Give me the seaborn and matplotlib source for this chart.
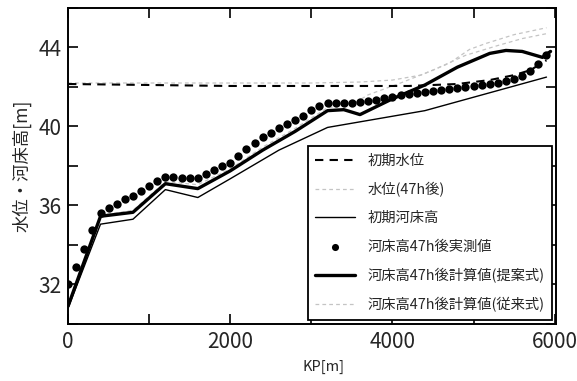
import matplotlib
matplotlib.use("Agg")
import matplotlib.pyplot as plt
from matplotlib.ticker import MultipleLocator
import seaborn as sns

# ---- data (KP in m, elevation in m) ----
kp_wl0 = [0, 1000, 2000, 3000, 4200, 4800, 5200, 5500, 5700, 5900]
wl0 = [42.15, 42.1, 42.05, 42.05, 42.05, 42.15, 42.35, 42.6, 42.85, 43.35]

kp_wl47 = [0, 3000, 3600, 4000, 4350, 4700, 4950, 5150, 5500, 5900]
wl47 = [42.2, 42.2, 42.25, 42.35, 42.6, 43.2, 43.9, 44.2, 44.65, 45.0]

kp_bed0 = [0, 400, 800, 1200, 1600, 2000, 2600, 3200, 4400, 5900]
bed0 = [30.8, 35.05, 35.3, 36.8, 36.4, 37.35, 38.8, 39.95, 40.8, 42.5]

kp_obs = [0, 100, 200, 300, 400, 500, 600, 700, 800, 900,
          1000, 1100, 1200, 1300, 1400, 1500, 1600, 1700, 1800, 1900,
          2000, 2100, 2200, 2300, 2400, 2500, 2600, 2700, 2800, 2900,
          3000, 3100, 3200, 3300, 3400, 3500, 3600, 3700, 3800, 3900,
          4000, 4100, 4200, 4300, 4400, 4500, 4600, 4700, 4800, 4900,
          5000, 5100, 5200, 5300, 5400, 5500, 5600, 5700, 5800, 5900]
bed_obs = [32.0, 32.9, 33.8, 34.75, 35.6, 35.85, 36.05, 36.3, 36.5, 36.75,
           37.0, 37.25, 37.45, 37.45, 37.4, 37.4, 37.4, 37.6, 37.8, 38.0,
           38.15, 38.5, 38.85, 39.15, 39.45, 39.65, 39.9, 40.1, 40.35, 40.55,
           40.85, 41.05, 41.2, 41.2, 41.2, 41.2, 41.25, 41.3, 41.35, 41.45,
           41.5, 41.6, 41.65, 41.7, 41.75, 41.8, 41.85, 41.9, 41.95, 42.0,
           42.05, 42.1, 42.15, 42.2, 42.3, 42.4, 42.55, 42.8, 43.15, 43.6]

kp_new = [0, 400, 800, 1200, 1600, 2000, 2400, 2800, 3200, 3400,
          3600, 4000, 4400, 4800, 5200, 5400, 5600, 5850, 5950]
bed_new = [30.9, 35.45, 35.65, 37.1, 36.85, 37.75, 38.8, 39.75, 40.8, 40.85,
           40.6, 41.4, 42.1, 43.0, 43.7, 43.85, 43.8, 43.5, 43.8]

kp_old = [0, 400, 800, 1200, 1600, 2000, 2400, 2800, 3200, 3500,
          3700, 4100, 4500, 4900, 5300, 5600, 5900]
bed_old = [30.9, 35.5, 35.75, 37.2, 37.05, 37.85, 38.95, 39.9, 40.95, 41.1,
           41.6, 42.2, 42.85, 43.6, 44.1, 44.45, 44.7]

labels = ["初期水位", "水位(47h後)", "初期河床高", "河床高47h後実測値",
          "河床高47h後計算値(提案式)", "河床高47h後計算値(従来式)"]

sns.set_theme(style="ticks")
plt.rcParams["font.family"] = ["Noto Sans CJK JP", "DejaVu Sans"]
plt.rcParams["axes.linewidth"] = 1.4

fig = plt.figure(figsize=(5.77, 3.81), dpi=100)
ax = fig.add_axes([0.118, 0.15, 0.846, 0.829])

gray = "#c4c4c4"
sns.lineplot(x=kp_wl0, y=wl0, ax=ax, color="black", lw=1.5, label=labels[0], zorder=3)
ax.lines[-1].set_dashes((4, 3))
sns.lineplot(x=kp_wl47, y=wl47, ax=ax, color=gray, lw=0.9, label=labels[1], zorder=2)
ax.lines[-1].set_dashes((3, 2.5))
sns.lineplot(x=kp_bed0, y=bed0, ax=ax, color="black", lw=1.0, label=labels[2], zorder=3)
sns.scatterplot(x=kp_obs, y=bed_obs, ax=ax, color="black", s=36, edgecolor="black",
                linewidth=0, label=labels[3], zorder=5)
sns.lineplot(x=kp_new, y=bed_new, ax=ax, color="black", lw=2.4, label=labels[4], zorder=4)
sns.lineplot(x=kp_old, y=bed_old, ax=ax, color=gray, lw=0.9, label=labels[5], zorder=2)
ax.lines[-1].set_dashes((3, 2.5))

ax.set_xlim(0, 6020)
ax.set_ylim(30, 46)
ax.xaxis.set_major_locator(MultipleLocator(2000))
ax.xaxis.set_minor_locator(MultipleLocator(1000))
ax.yaxis.set_major_locator(MultipleLocator(4))
ax.yaxis.set_minor_locator(MultipleLocator(2))
ax.set_yticks([32, 36, 40, 44])
for which in ("major", "minor"):
    ax.tick_params(axis="both", which=which, direction="in", length=7, width=1.2,
                   top=True, right=True, color="black")
ax.tick_params(axis="both", which="major", labelsize=15, pad=5)
for s in ax.spines.values():
    s.set_color("black")

ax.set_xlabel("KP[m]", fontsize=10.5)
ax.xaxis.set_label_coords(0.523, -0.115)
ax.set_ylabel("水位・河床高[m]", fontsize=12.5, labelpad=5)

leg = ax.legend(loc="lower right", fontsize=10.3, frameon=True, fancybox=False,
                edgecolor="black", framealpha=1, handlelength=2.8, handletextpad=0.9,
                labelspacing=1.0, borderaxespad=0.3, borderpad=0.5, markerscale=0.85)
leg.get_frame().set_linewidth(1.3)

fig.savefig("out.png", dpi=100)
